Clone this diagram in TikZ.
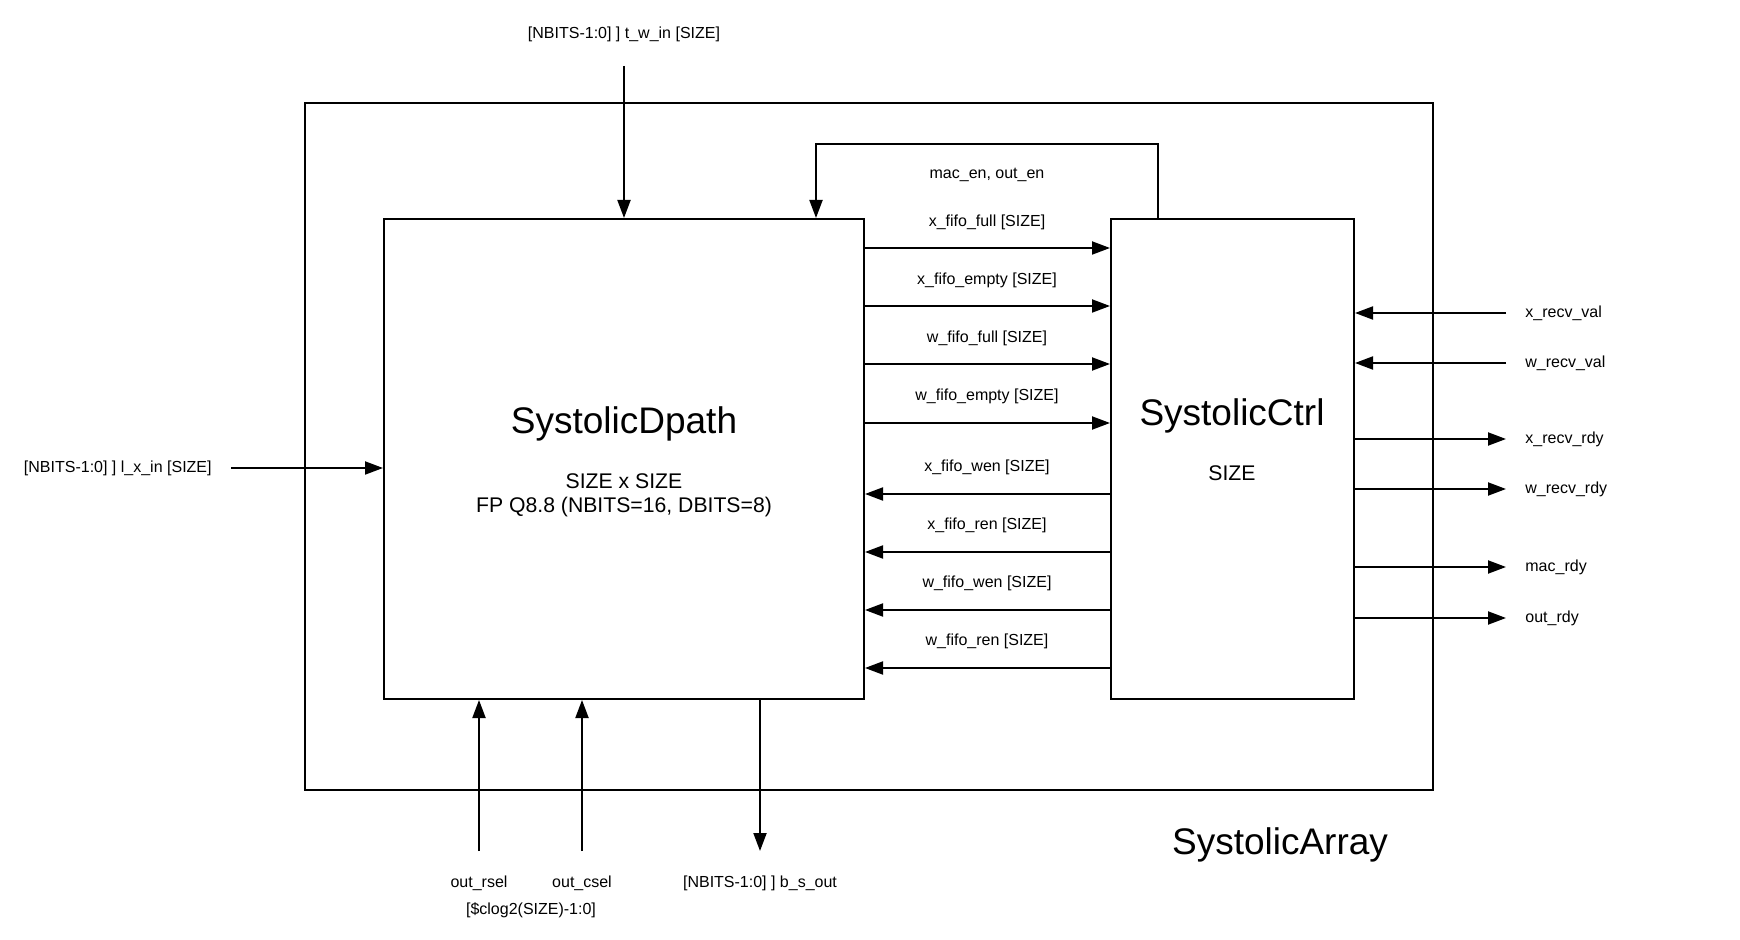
\documentclass[tikz,border=0pt]{standalone}
\usepackage{fontspec}
\setmainfont{Liberation Sans}
\usetikzlibrary{arrows.meta}

\begin{document}
\begin{tikzpicture}[x=0.5pt, y=-0.5pt,
  blk/.style={draw, line width=1pt, inner sep=0pt},
  sig/.style={line width=1pt, -{Triangle[length=9pt, width=6.5pt]}},
  lbl/.style={inner sep=0pt, yshift=-1pt, font=\fontsize{8}{9.6}\selectfont},
  big/.style={inner sep=0pt, yshift=-2.5pt, font=\fontsize{18.5}{22}\selectfont},
  sub/.style={inner sep=0pt, font=\fontsize{10.6}{12.7}\selectfont}]
\useasboundingbox (0,0) rectangle (1740,940);

% blocks
\node[blk, minimum width=564pt, minimum height=343.5pt] (array) at (869,446.5) {};
\node[blk, minimum width=240pt, minimum height=240pt] (dpath) at (624,459) {};
\node[blk, minimum width=121.5pt, minimum height=240pt] (ctrl) at (1232.5,459) {};

\node[big] (dpathname) at (624,419) {SystolicDpath};
\node[sub] (dpathsize) at (624,481) {SIZE x SIZE};
\node[sub] (dpathfmt) at (624,507) {FP Q8.8 (NBITS=16, DBITS=8)};
\node[big] (ctrlname) at (1232,411) {SystolicCtrl};
\node[sub] (ctrlsize) at (1232,473) {SIZE};
\node[big] (arrayname) at (1280,840) {SystolicArray};

% top and left inputs
\node[lbl] (twinlbl) at (624,32) {[NBITS-1:0] ] t\_w\_in [SIZE]};
\coordinate (twin) at (624,66);
\draw[sig] (twin) -- (dpath.north);
\node[lbl, anchor=east] (lxinlbl) at (212,466) {[NBITS-1:0] ] l\_x\_in [SIZE]};
\coordinate (lxin) at (231,468);
\draw[sig] (lxin) -- (lxin -| dpath.west);

% ctrl -> dpath enables
\coordinate (fb) at (816,144);
\draw[sig] ([xshift=24pt]ctrl.north west) |- (fb) -- (fb |- dpath.north);
\node[lbl] (enlbl) at (987,173) {mac\_en, out\_en};

% dpath -> ctrl status
\node[lbl] (xfflbl) at (987,220) {x\_fifo\_full [SIZE]};
\draw[sig] (dpath.east |- 0,248) -- (ctrl.west |- 0,248);
\node[lbl] (xfelbl) at (987,278) {x\_fifo\_empty [SIZE]};
\draw[sig] (dpath.east |- 0,306) -- (ctrl.west |- 0,306);
\node[lbl] (wfflbl) at (987,336) {w\_fifo\_full [SIZE]};
\draw[sig] (dpath.east |- 0,364) -- (ctrl.west |- 0,364);
\node[lbl] (wfelbl) at (987,394) {w\_fifo\_empty [SIZE]};
\draw[sig] (dpath.east |- 0,423) -- (ctrl.west |- 0,423);

% ctrl -> dpath fifo controls
\node[lbl] (xfwlbl) at (987,465) {x\_fifo\_wen [SIZE]};
\draw[sig] (ctrl.west |- 0,494) -- (dpath.east |- 0,494);
\node[lbl] (xfrlbl) at (987,523) {x\_fifo\_ren [SIZE]};
\draw[sig] (ctrl.west |- 0,552) -- (dpath.east |- 0,552);
\node[lbl] (wfwlbl) at (987,581) {w\_fifo\_wen [SIZE]};
\draw[sig] (ctrl.west |- 0,610) -- (dpath.east |- 0,610);
\node[lbl] (wfrlbl) at (987,639) {w\_fifo\_ren [SIZE]};
\draw[sig] (ctrl.west |- 0,668) -- (dpath.east |- 0,668);

% right side handshake
\node[lbl, anchor=west] (xrv) at (1525,311) {x\_recv\_val};
\draw[sig] ([xshift=-9.5pt]xrv.west) -- (ctrl.east |- xrv.west);
\node[lbl, anchor=west] (wrv) at (1525,361) {w\_recv\_val};
\draw[sig] ([xshift=-9.5pt]wrv.west) -- (ctrl.east |- wrv.west);
\node[lbl, anchor=west] (xrr) at (1525,437) {x\_recv\_rdy};
\draw[sig] (ctrl.east |- xrr.west) -- ([xshift=-9.5pt]xrr.west);
\node[lbl, anchor=west] (wrr) at (1525,487) {w\_recv\_rdy};
\draw[sig] (ctrl.east |- wrr.west) -- ([xshift=-9.5pt]wrr.west);
\node[lbl, anchor=west] (macr) at (1525,565) {mac\_rdy};
\draw[sig] (ctrl.east |- macr.west) -- ([xshift=-9.5pt]macr.west);
\node[lbl, anchor=west] (outr) at (1525,616) {out\_rdy};
\draw[sig] (ctrl.east |- outr.west) -- ([xshift=-9.5pt]outr.west);

% bottom
\coordinate (orsel) at (479,851);
\draw[sig] (orsel) -- (orsel |- dpath.south);
\coordinate (ocsel) at (582,851);
\draw[sig] (ocsel) -- (ocsel |- dpath.south);
\coordinate (bsout) at (760,851);
\draw[sig] (bsout |- dpath.south) -- (bsout);
\node[lbl] (orsellbl) at (479,881) {out\_rsel};
\node[lbl] (ocsellbl) at (582,881) {out\_csel};
\node[lbl] (sellbl) at (531,908) {[\$clog2(SIZE)-1:0]};
\node[lbl] (bsoutlbl) at (760,881) {[NBITS-1:0] ] b\_s\_out};
\end{tikzpicture}
\end{document}
